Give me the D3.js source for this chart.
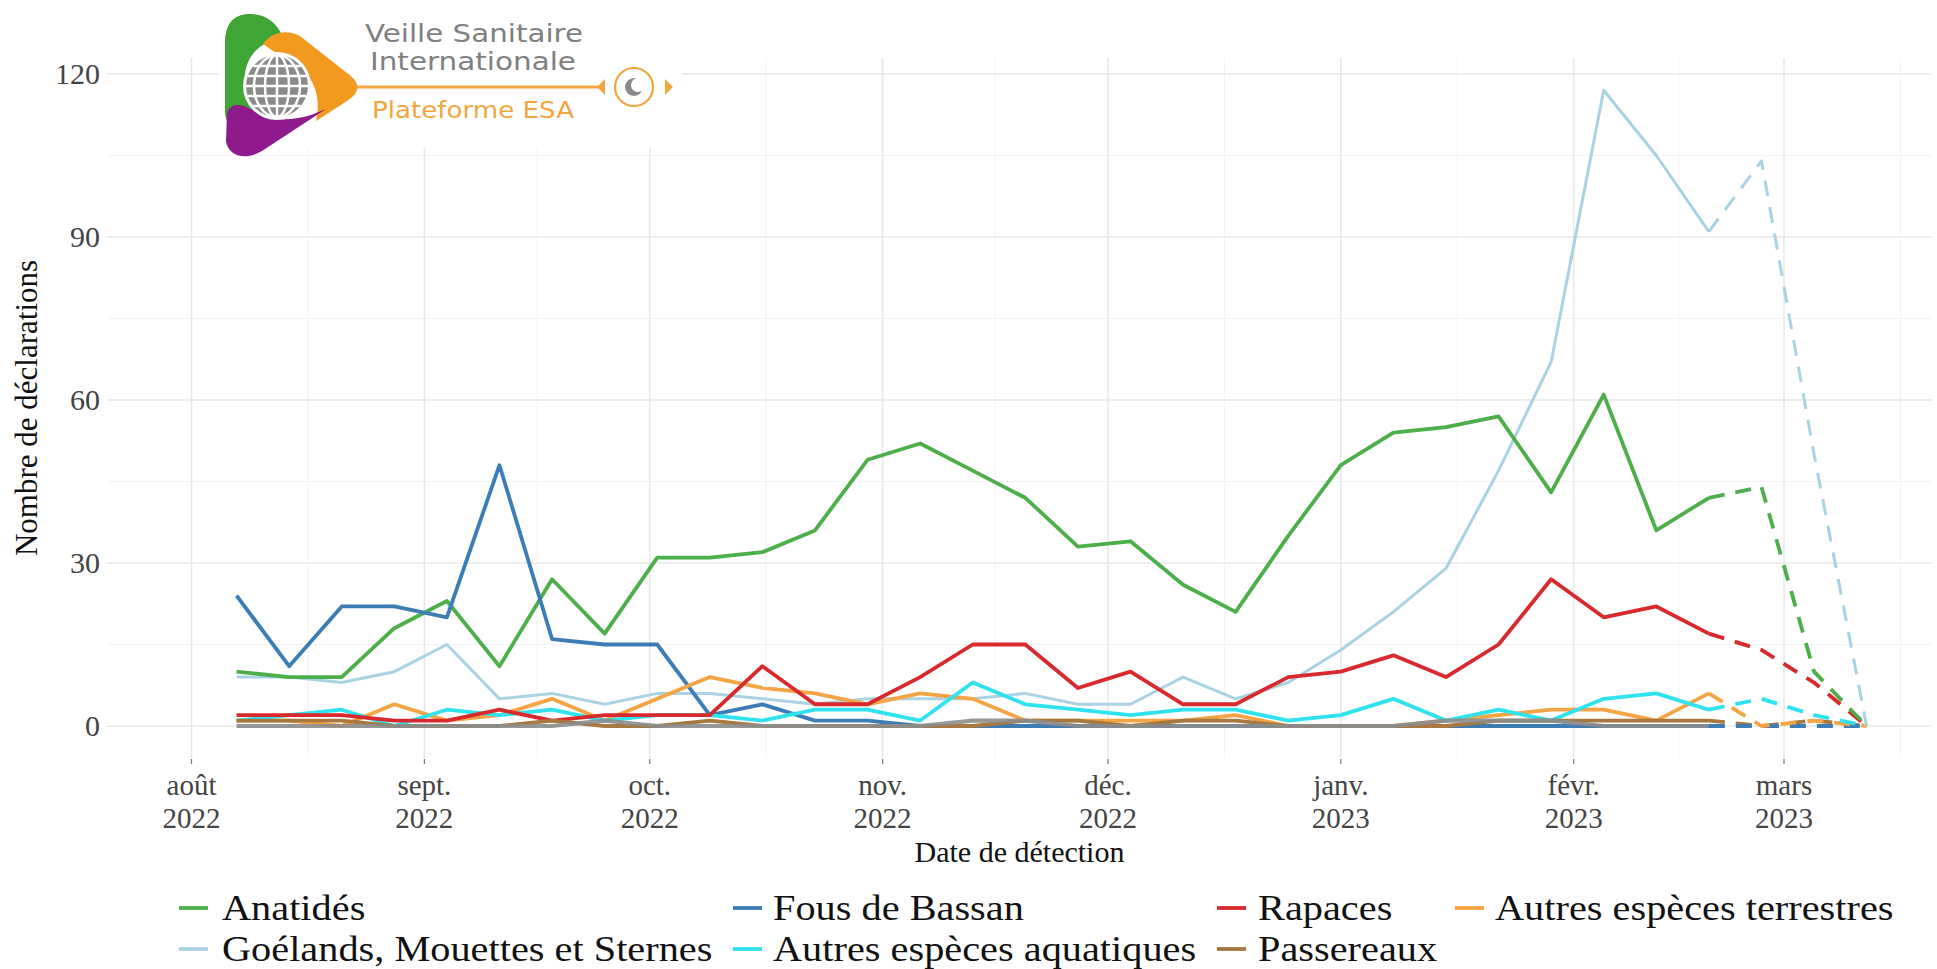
<!DOCTYPE html>
<html><head><meta charset="utf-8">
<script src="https://cdn.jsdelivr.net/npm/d3@7"></script>
<style>html,body{margin:0;padding:0;background:#fff;} svg{display:block}</style>
</head><body>
<svg id="chart" width="1937" height="969"></svg>
<script>
// ---------------- DATA ----------------
const weekDates = ["2022-08-07","2022-08-14","2022-08-21","2022-08-28","2022-09-04","2022-09-11","2022-09-18","2022-09-25",
  "2022-10-02","2022-10-09","2022-10-16","2022-10-23","2022-10-30","2022-11-06","2022-11-13","2022-11-20","2022-11-27",
  "2022-12-04","2022-12-11","2022-12-18","2022-12-25","2023-01-01","2023-01-08","2023-01-15","2023-01-22","2023-01-29",
  "2023-02-05","2023-02-12","2023-02-19","2023-02-26","2023-03-05","2023-03-12"];
const lastCompleteWeek = "2023-02-19";

const seriesNames = ["Anatidés","Goélands, Mouettes et Sternes","Fous de Bassan","Autres espèces aquatiques","Rapaces","Passereaux","Autres espèces terrestres"];
const seriesColors = ["#4DAF4A","#A9D3E3","#3C7DB5","#2FE2EE","#D8292C","#A7783F","#F5A443"];

const anatides   = [10,9,9,18,23,11,27,17,31,31,32,36,49,52,47,42,33,34,26,21,35,48,54,55,57,43,61,36,42,44,10,0];
const goelands   = [9,9,8,10,15,5,6,4,6,6,5,4,5,5,5,6,4,4,9,5,8,14,21,29,47,67,117,105,91,104,50,0];
const fous       = [24,11,22,22,20,48,16,15,15,2,4,1,1,0,0,0,0,0,0,0,0,0,0,0,0,0,0,0,0,0,0,0];
const aquatiques = [1,2,3,0,3,2,3,1,2,2,1,3,3,1,8,4,3,2,3,3,1,2,5,1,3,1,5,6,3,5,2,0];
const rapaces    = [2,2,2,1,1,3,1,2,2,2,11,4,4,9,15,15,7,10,4,4,9,10,13,9,15,27,20,22,17,14,8,0];
const passereaux = [1,1,1,0,0,0,1,0,0,1,0,0,0,0,0,1,1,0,1,1,0,0,0,0,1,1,1,1,1,0,1,0];
const terrestres = [1,1,0,4,1,2,5,1,5,9,7,6,4,6,5,1,1,1,1,2,0,0,0,1,2,3,3,1,6,0,1,0];
const autresGris = [0,0,0,0,0,0,0,1,0,0,0,0,0,0,1,1,0,0,0,0,0,0,0,1,1,1,0,0,0];

const monthTicks  = ["2022-08-01","2022-09-01","2022-10-01","2022-11-01","2022-12-01","2023-01-01","2023-02-01","2023-03-01"];
const monthNames  = ["août","sept.","oct.","nov.","déc.","janv.","févr.","mars"];
const yearNames   = ["2022","2022","2022","2022","2022","2023","2023","2023"];
const monthMinor  = ["2022-08-16T12:00","2022-09-16","2022-10-16T12:00","2022-11-16","2022-12-16T12:00","2023-01-16T12:00","2023-02-15","2023-03-16T12:00"];
const yTicks = [0,30,60,90,120];
const yMinor = [15,45,75,105];

const xTitle = "Date de détection";
const yTitle = "Nombre de déclarations";

// ---------------- CHART ----------------
const svg = d3.select("#chart");
const parse = s => new Date(s + (s.length===10 ? "T00:00:00Z" : ":00Z"));
const panel = {left:107, right:1932, top:58, bottom:758};

const x = d3.scaleUtc().domain([parse("2022-08-01"), parse("2023-03-01")]).range([191.5, 1784]);
const y = d3.scaleLinear().domain([0,120]).range([726, 74]);

const serif = "'Liberation Serif','Times New Roman',serif";

// grid
const grid = svg.append("g");
grid.selectAll(".ymin").data(yMinor).enter().append("line")
  .attr("x1",panel.left).attr("x2",panel.right).attr("y1",d=>y(d)).attr("y2",d=>y(d))
  .attr("stroke","#f2f2f2").attr("stroke-width",1);
grid.selectAll(".xmin").data(monthMinor).enter().append("line")
  .attr("x1",d=>x(parse(d))).attr("x2",d=>x(parse(d))).attr("y1",panel.top).attr("y2",panel.bottom)
  .attr("stroke","#f2f2f2").attr("stroke-width",1);
grid.selectAll(".ymaj").data(yTicks).enter().append("line")
  .attr("x1",panel.left).attr("x2",panel.right).attr("y1",d=>y(d)).attr("y2",d=>y(d))
  .attr("stroke","#e8e8e8").attr("stroke-width",1.6);
grid.selectAll(".xmaj").data(monthTicks).enter().append("line")
  .attr("x1",d=>x(parse(d))).attr("x2",d=>x(parse(d))).attr("y1",panel.top).attr("y2",panel.bottom)
  .attr("stroke","#e8e8e8").attr("stroke-width",1.6);

// x axis ticks and labels
const xAxis = svg.append("g");
xAxis.selectAll(".tk").data(monthTicks).enter().append("line")
  .attr("x1",d=>x(parse(d))).attr("x2",d=>x(parse(d))).attr("y1",panel.bottom+1).attr("y2",panel.bottom+6)
  .attr("stroke","#777").attr("stroke-width",1.2);
xAxis.selectAll(".lbm").data(monthTicks).enter().append("text")
  .attr("x",d=>x(parse(d))).attr("y",795).attr("text-anchor","middle")
  .attr("font-family",serif).attr("font-size",29).attr("fill","#444").text((d,i)=>monthNames[i]);
xAxis.selectAll(".lby").data(monthTicks).enter().append("text")
  .attr("x",d=>x(parse(d))).attr("y",828).attr("text-anchor","middle")
  .attr("font-family",serif).attr("font-size",29).attr("fill","#444").text((d,i)=>yearNames[i]);

// y axis labels
svg.append("g").selectAll("text").data(yTicks).enter().append("text")
  .attr("x",100).attr("y",d=>y(d)+10).attr("text-anchor","end")
  .attr("font-family",serif).attr("font-size",30).attr("fill","#444").text(d=>d);

// titles
svg.append("text").attr("x",(panel.left+panel.right)/2).attr("y",862).attr("text-anchor","middle")
  .attr("font-family",serif).attr("font-size",30).attr("fill","#111").text(xTitle);
svg.append("text").attr("transform",`translate(37,${(panel.top+panel.bottom)/2}) rotate(-90)`)
  .attr("text-anchor","middle").attr("font-family",serif).attr("font-size",31).attr("fill","#111").text(yTitle);

// ---------------- LOGO ----------------
const logo = svg.append("g");
logo.append("rect").attr("x",220).attr("y",0).attr("width",462).attr("height",148).attr("fill","#fff");
logo.append("path").attr("fill","#3FA535")
  .attr("d","M250,14 C233,14 225,24 225,44 L225,112 C225,126 236,129 249,121 L262,111 C249,101 243,88 245,74 C247,56 259,44 276,39 L283,37 C276,21 265,14 250,14 Z");
logo.append("path").attr("fill","#F29A1F")
  .attr("d","M263,44 C271,32 287,29 300,36 L347,73 C361,83 361,92 347,101 L316,121 C321,101 316,80 300,68 C290,60 276,54 263,44 Z");
logo.append("path").attr("fill","#8E1A8E")
  .attr("d","M227,113 C232,100 245,105 256,112 C270,121 292,121 311,115 L326,109 L262,151 C245,161 228,156 226,141 Z");
const gx = 277, gy = 86, gr = 31;
logo.append("circle").attr("cx",gx).attr("cy",gy).attr("r",gr+3).attr("fill","#fff");
logo.append("circle").attr("cx",gx).attr("cy",gy).attr("r",gr).attr("fill","#8a8a8a");
const gl = logo.append("g").attr("fill","none").attr("stroke","#fff").attr("stroke-width",2.5);
gl.append("ellipse").attr("cx",gx).attr("cy",gy).attr("rx",12).attr("ry",gr);
gl.append("ellipse").attr("cx",gx).attr("cy",gy).attr("rx",23).attr("ry",gr);
gl.append("line").attr("x1",gx).attr("x2",gx).attr("y1",gy-gr).attr("y2",gy+gr);
[-20,-10,0,10,20].forEach(dy=>{
  const hw = Math.sqrt(gr*gr-dy*dy);
  gl.append("line").attr("x1",gx-hw).attr("x2",gx+hw).attr("y1",gy+dy).attr("y2",gy+dy);
});
logo.append("text").attr("x",365).attr("y",42).attr("font-family","'DejaVu Sans',sans-serif").attr("font-size",25)
  .attr("fill","#808080").attr("textLength",218).attr("lengthAdjust","spacingAndGlyphs").text("Veille Sanitaire");
logo.append("text").attr("x",370).attr("y",70).attr("font-family","'DejaVu Sans',sans-serif").attr("font-size",25)
  .attr("fill","#808080").attr("textLength",206).attr("lengthAdjust","spacingAndGlyphs").text("Internationale");
logo.append("text").attr("x",372).attr("y",118).attr("font-family","'DejaVu Sans',sans-serif").attr("font-size",23)
  .attr("fill","#F3A640").attr("textLength",202).attr("lengthAdjust","spacingAndGlyphs").text("Plateforme ESA");
logo.append("line").attr("x1",357).attr("x2",600).attr("y1",87).attr("y2",87).attr("stroke","#F3A640").attr("stroke-width",3);
logo.append("path").attr("d","M605,79 L597,87 L605,95 Z").attr("fill","#F3A640");
logo.append("circle").attr("cx",634).attr("cy",87).attr("r",19).attr("fill","#fff").attr("stroke","#F3A640").attr("stroke-width",2.2);
logo.append("circle").attr("cx",634).attr("cy",87).attr("r",9).attr("fill","#8a8a8a");
logo.append("circle").attr("cx",638).attr("cy",85).attr("r",7).attr("fill","#fff");
logo.append("path").attr("d","M665,79 L673,87 L665,95 Z").attr("fill","#F3A640");

// ---------------- LINES ----------------
const allSeries = [anatides, goelands, fous, aquatiques, rapaces, passereaux, terrestres];
const dates = weekDates.map(parse);
const cutIdx = weekDates.indexOf(lastCompleteWeek);
const line = d3.line().x(d=>x(d[0])).y(d=>y(d[1]));
const widths = [3.8,3.0,3.8,3.8,3.8,3.8,3.8];
const drawOrder = [1,0,2,6,3,4];
const lg = svg.append("g").attr("fill","none").attr("stroke-linejoin","round").attr("stroke-linecap","butt");

drawOrder.forEach(i=>{
  const pts = dates.map((d,k)=>[d, allSeries[i][k]]);
  lg.append("path").attr("d",line(pts.slice(0,cutIdx+1))).attr("stroke",seriesColors[i]).attr("stroke-width",widths[i]);
});
{
  const pts = dates.map((d,k)=>[d, passereaux[k]]);
  lg.append("path").attr("d",line(pts.slice(0,cutIdx+1))).attr("stroke",seriesColors[5]).attr("stroke-width",3.8);
}
lg.append("path").attr("d",line(autresGris.map((v,k)=>[dates[k],v]))).attr("stroke","#8c8c8c").attr("stroke-width",4.2).attr("stroke-opacity",0.9);
// dashed (incomplete) part
[5,2,6,3,4,0,1].forEach(i=>{
  const pts = dates.map((d,k)=>[d, allSeries[i][k]]);
  lg.append("path").attr("d",line(pts.slice(cutIdx))).attr("stroke",seriesColors[i])
    .attr("stroke-width",widths[i]).attr("stroke-dasharray","16,11");
});

// ---------------- LEGEND ----------------
const legendCols = [{kx:179, tx:222},{kx:733, tx:773},{kx:1217, tx:1258},{kx:1455, tx:1495}];
const legendRows = [908, 949];
const leg = svg.append("g");
seriesNames.forEach((name,k)=>{
  const col = legendCols[Math.floor(k/2)], row = legendRows[k%2];
  leg.append("line").attr("x1",col.kx).attr("x2",col.kx+29).attr("y1",row).attr("y2",row)
    .attr("stroke",seriesColors[k]).attr("stroke-width",3.8);
  leg.append("text").attr("transform",`translate(${col.tx},${row+12}) scale(1.12,1)`)
    .attr("font-family",serif).attr("font-size",36).attr("fill","#111").text(name);
});
</script>
</body></html>
